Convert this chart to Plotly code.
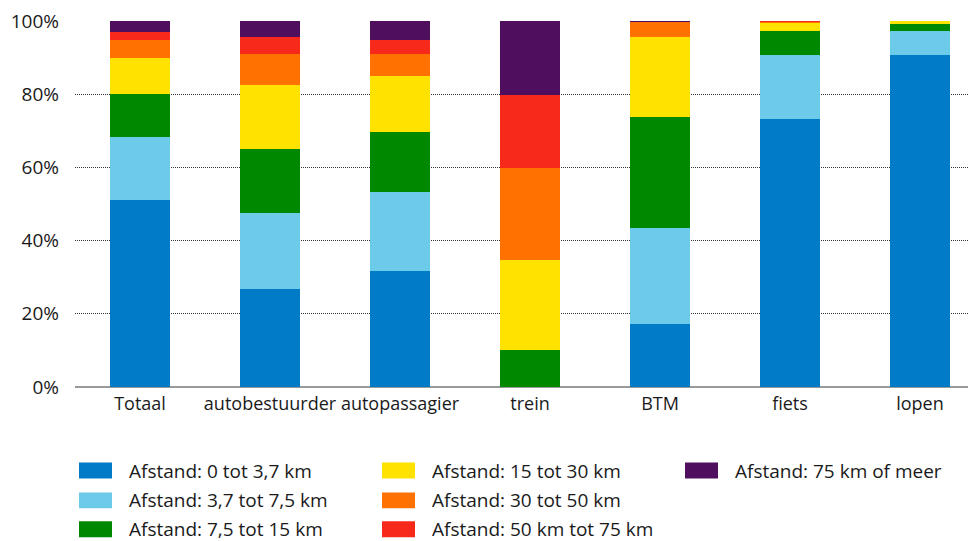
import plotly.graph_objects as go

categories = ["Totaal", "autobestuurder", "autopassagier", "trein", "BTM", "fiets", "lopen"]

series_names = [
    "Afstand: 0 tot 3,7 km",
    "Afstand: 3,7 tot 7,5 km",
    "Afstand: 7,5 tot 15 km",
    "Afstand: 15 tot 30 km",
    "Afstand: 30 tot 50 km",
    "Afstand: 50 km tot 75 km",
    "Afstand: 75 km of meer",
]

afstand_0_37 = [51.1, 26.9, 31.8, 0.0, 17.3, 73.2, 90.6]
afstand_37_75 = [17.2, 20.7, 21.5, 0.0, 26.2, 17.6, 6.8]
afstand_75_15 = [11.7, 17.4, 16.3, 10.0, 30.2, 6.6, 1.9]
afstand_15_30 = [9.8, 17.4, 15.3, 24.8, 21.8, 2.2, 0.7]
afstand_30_50 = [4.9, 8.5, 6.2, 25.0, 4.3, 0.3, 0.0]
afstand_50_75 = [2.4, 4.7, 3.8, 20.1, 0.1, 0.1, 0.0]
afstand_75_plus = [2.9, 4.4, 5.1, 20.1, 0.1, 0.0, 0.0]

series_values = [afstand_0_37, afstand_37_75, afstand_75_15, afstand_15_30,
                 afstand_30_50, afstand_50_75, afstand_75_plus]

colors = ["#027BC7", "#6DCBEA", "#008900", "#FFE200", "#FF7100", "#F7291B", "#4F0E5E"]

y_ticks = [0, 20, 40, 60, 80, 100]
y_tick_labels = ["0%", "20%", "40%", "60%", "80%", "100%"]

FONT = "Open Sans"
FS = 19
FS_X = 18
TXT = "#1a1a1a"

# the page body has an 8px margin; size the figure so it fills the window
OFF = 8
W, H = 976 - OFF, 541 - OFF
ML, MR, MT = 75 - OFF, 0, 19 - OFF
PLOT_BOTTOM = 387 - OFF
MB = H - PLOT_BOTTOM
PW, PH = W - ML - MR, H - MT - MB

fig = go.Figure()
for name, vals, col in zip(series_names, series_values, colors):
    fig.add_trace(go.Bar(
        x=categories, y=vals, name=name, marker=dict(color=col, line=dict(width=0)),
        width=0.454, showlegend=False,
    ))

def px_x(px):
    return (px - OFF - ML) / PW

def px_y(py):
    return (PLOT_BOTTOM - (py - OFF)) / PH

# custom legend (three columns)
col_x = [79, 382, 685]
row_y = [471, 501, 530]
shapes = []
annotations = []
for i, (name, col) in enumerate(zip(series_names, colors)):
    c, r = divmod(i, 3)
    x0 = col_x[c]
    yc = row_y[r]
    shapes.append(dict(type="rect", xref="paper", yref="paper",
                       x0=px_x(x0), x1=px_x(x0 + 33), y0=px_y(yc + 8), y1=px_y(yc - 8),
                       fillcolor=col, line=dict(width=0), layer="above"))
    annotations.append(dict(xref="paper", yref="paper", x=px_x(x0 + 48), y=px_y(yc),
                            xanchor="left", yanchor="middle", text=name, showarrow=False,
                            font=dict(family=FONT, size=FS, color=TXT)))

fig.update_layout(
    width=W, height=H,
    margin=dict(l=ML, r=MR, t=MT, b=MB),
    barmode="stack",
    bargap=0,
    plot_bgcolor="white",
    paper_bgcolor="white",
    font=dict(family=FONT, size=FS, color=TXT),
    shapes=shapes,
    annotations=annotations,
    xaxis=dict(
        range=[-0.5, -0.5 + PW / 130.0],
        showgrid=False, showline=False, zeroline=False,
        ticks="", ticklabelstandoff=4, tickangle=0,
        tickfont=dict(family=FONT, size=FS_X, color=TXT),
        fixedrange=True,
    ),
    yaxis=dict(
        range=[0, 100], tickvals=y_ticks, ticktext=y_tick_labels,
        showgrid=True, gridcolor="#333333", gridwidth=1, griddash="1px,1px",
        zeroline=True, zerolinecolor="#999999", zerolinewidth=2,
        showline=False, ticks="", ticklabelstandoff=15,
        ticklabeloverflow="allow",
        tickfont=dict(family=FONT, size=FS, color=TXT),
        fixedrange=True,
    ),
)

fig.write_html("out.html")
